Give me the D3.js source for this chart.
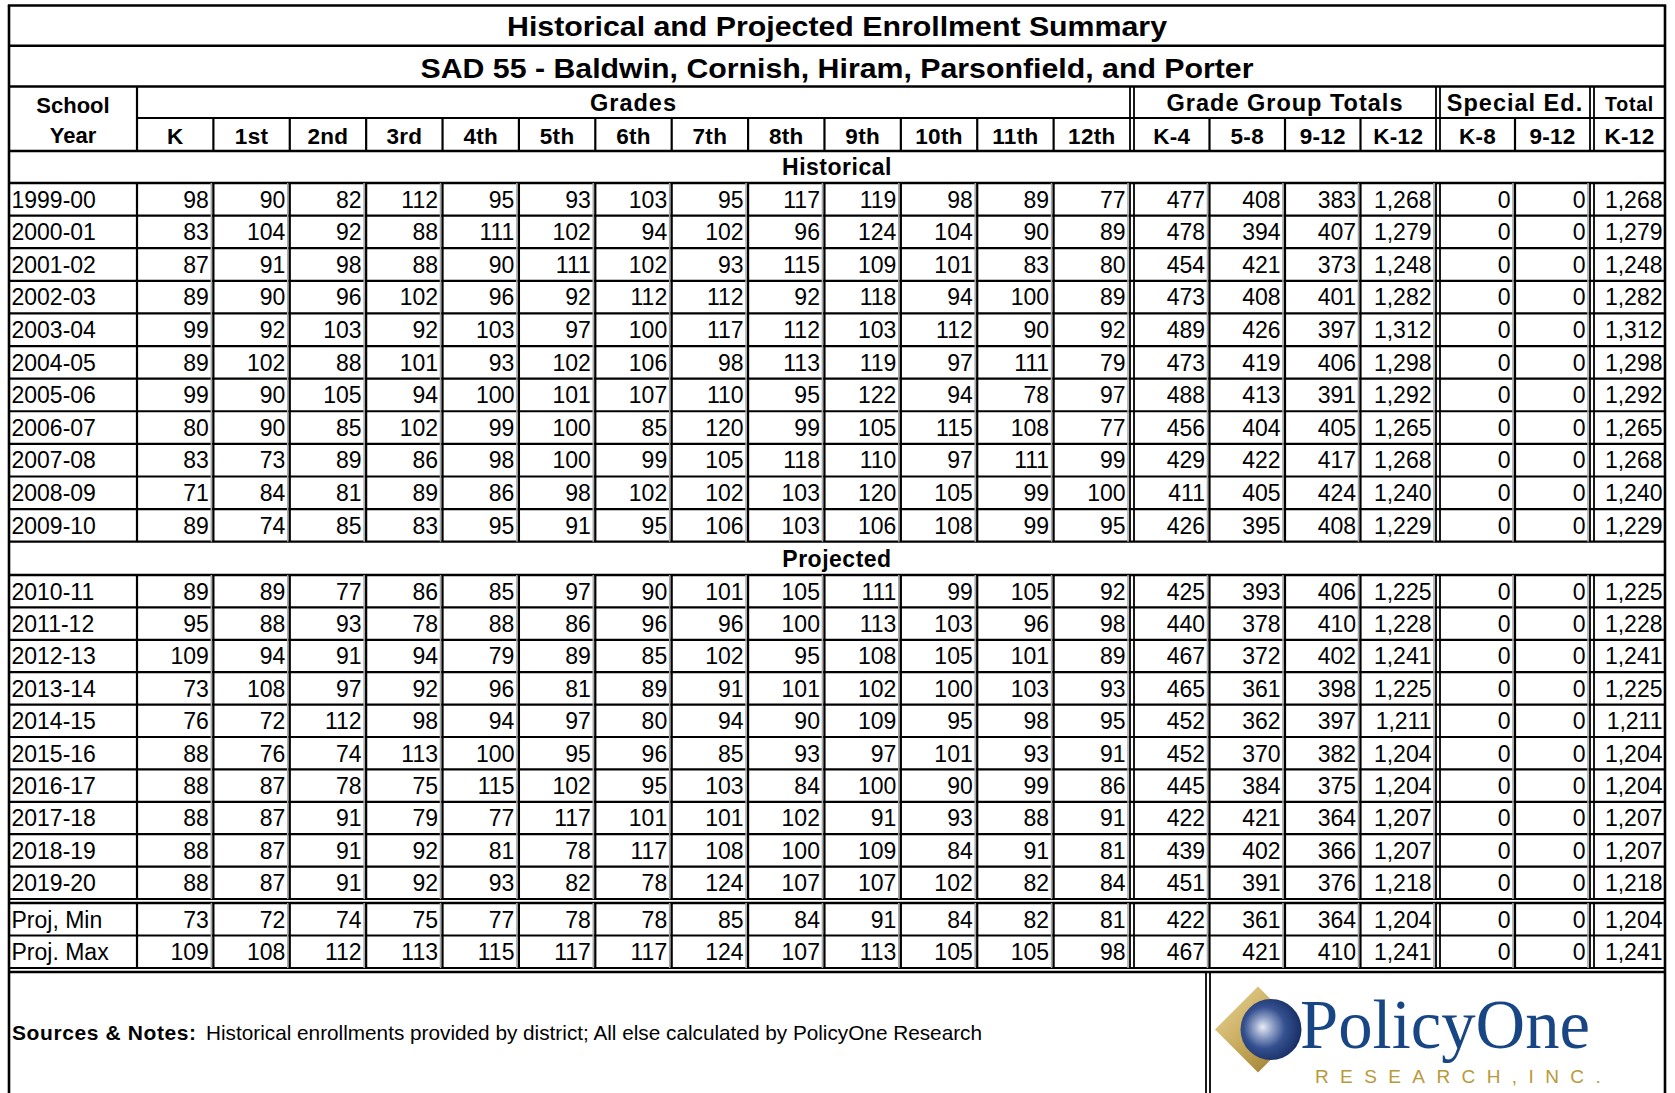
<!DOCTYPE html>
<html><head><meta charset="utf-8">
<script src="https://cdn.jsdelivr.net/npm/d3@7"></script>
<style>
body{margin:0;background:#fff}
svg{display:block}
text{font-family:"Liberation Sans",Arial,Helvetica,sans-serif;fill:#000}
</style>
</head><body><div id="chart"></div>
<script>
// ---------------- DATA ----------------
const titleText = "Historical and Projected Enrollment Summary";
const subtitleText = "SAD 55 - Baldwin, Cornish, Hiram, Parsonfield, and Porter";
const gradeCols = ["K","1st","2nd","3rd","4th","5th","6th","7th","8th","9th","10th","11th","12th"];
const groupCols = ["K-4","5-8","9-12","K-12"];
const specCols = ["K-8","9-12"];
const totalCols = ["K-12"];

const histYears = ["1999-00","2000-01","2001-02","2002-03","2003-04","2004-05","2005-06","2006-07","2007-08","2008-09","2009-10"];
const histGrades = [
  [98,90,82,112,95,93,103,95,117,119,98,89,77],
  [83,104,92,88,111,102,94,102,96,124,104,90,89],
  [87,91,98,88,90,111,102,93,115,109,101,83,80],
  [89,90,96,102,96,92,112,112,92,118,94,100,89],
  [99,92,103,92,103,97,100,117,112,103,112,90,92],
  [89,102,88,101,93,102,106,98,113,119,97,111,79],
  [99,90,105,94,100,101,107,110,95,122,94,78,97],
  [80,90,85,102,99,100,85,120,99,105,115,108,77],
  [83,73,89,86,98,100,99,105,118,110,97,111,99],
  [71,84,81,89,86,98,102,102,103,120,105,99,100],
  [89,74,85,83,95,91,95,106,103,106,108,99,95]
];
const histGroups = [
  [477,408,383,1268],[478,394,407,1279],[454,421,373,1248],[473,408,401,1282],
  [489,426,397,1312],[473,419,406,1298],[488,413,391,1292],[456,404,405,1265],
  [429,422,417,1268],[411,405,424,1240],[426,395,408,1229]
];
const histSpecial = [[0,0],[0,0],[0,0],[0,0],[0,0],[0,0],[0,0],[0,0],[0,0],[0,0],[0,0]];
const histTotal = [1268,1279,1248,1282,1312,1298,1292,1265,1268,1240,1229];

const projYears = ["2010-11","2011-12","2012-13","2013-14","2014-15","2015-16","2016-17","2017-18","2018-19","2019-20"];
const projGrades = [
  [89,89,77,86,85,97,90,101,105,111,99,105,92],
  [95,88,93,78,88,86,96,96,100,113,103,96,98],
  [109,94,91,94,79,89,85,102,95,108,105,101,89],
  [73,108,97,92,96,81,89,91,101,102,100,103,93],
  [76,72,112,98,94,97,80,94,90,109,95,98,95],
  [88,76,74,113,100,95,96,85,93,97,101,93,91],
  [88,87,78,75,115,102,95,103,84,100,90,99,86],
  [88,87,91,79,77,117,101,101,102,91,93,88,91],
  [88,87,91,92,81,78,117,108,100,109,84,91,81],
  [88,87,91,92,93,82,78,124,107,107,102,82,84]
];
const projGroups = [
  [425,393,406,1225],[440,378,410,1228],[467,372,402,1241],[465,361,398,1225],
  [452,362,397,1211],[452,370,382,1204],[445,384,375,1204],[422,421,364,1207],
  [439,402,366,1207],[451,391,376,1218]
];
const projSpecial = [[0,0],[0,0],[0,0],[0,0],[0,0],[0,0],[0,0],[0,0],[0,0],[0,0]];
const projTotal = [1225,1228,1241,1225,1211,1204,1204,1207,1207,1218];

const sumLabels = ["Proj, Min","Proj. Max"];
const sumGrades = [
  [73,72,74,75,77,78,78,85,84,91,84,82,81],
  [109,108,112,113,115,117,117,124,107,113,105,105,98]
];
const sumGroups = [[422,361,364,1204],[467,421,410,1241]];
const sumSpecial = [[0,0],[0,0]];
const sumTotal = [1204,1241];

const notesLabel = "Sources & Notes:";
const notesText = "Historical enrollments provided by district; All else calculated by PolicyOne Research";

// ---------------- LAYOUT ----------------
const W = 1675, H = 1093;
const X0 = 9, XR = 1665;
const yTop = 5.5, yTitle = 45.7, ySub = 86.5, yH1 = 118, yH2 = 151;
const yHistLbl = 183, yHistEnd = 541.7, yProjLbl = 575, yProjEnd = 899, ySumTop = 903, ySumEnd = 968, yFoot = 972;

const xYear = [X0, 137];
const xG = d3.scaleBand().domain(gradeCols).range([137, 1130]);
const xGr = d3.scaleBand().domain(groupCols).range([1134, 1436]);
const xSp = d3.scaleBand().domain(specCols).range([1440, 1590]);
const xTo = d3.scaleBand().domain(totalCols).range([1594, XR]);
const fmt = d3.format(",");

const sections = [
  {label:"Historical", keys:histYears, grades:histGrades, groups:histGroups, special:histSpecial, total:histTotal, range:[yHistLbl, yHistEnd]},
  {label:"Projected", keys:projYears, grades:projGrades, groups:projGroups, special:projSpecial, total:projTotal, range:[yProjLbl, yProjEnd]},
  {label:null, keys:sumLabels, grades:sumGrades, groups:sumGroups, special:sumSpecial, total:sumTotal, range:[ySumTop, ySumEnd]}
];

const svg = d3.select("#chart").append("svg").attr("width", W).attr("height", H);
svg.append("rect").attr("width", W).attr("height", H).attr("fill", "#fff");

const gLines = svg.append("g");
const gText = svg.append("g");
function hline(y, x1, x2, w = 2.2, c = "#000") {
  gLines.append("line").attr("x1", x1).attr("x2", x2).attr("y1", y).attr("y2", y).attr("stroke", c).attr("stroke-width", w);
}
function vline(x, y1, y2, w = 2.2, c = "#000") {
  gLines.append("line").attr("x1", x).attr("x2", x).attr("y1", y1).attr("y2", y2).attr("stroke", c).attr("stroke-width", w);
}
function txt(x, y, s, o = {}) {
  const t = gText.append("text").attr("x", x).attr("y", y).text(s)
    .attr("font-size", o.size || 23).attr("font-weight", o.bold ? "bold" : "normal")
    .attr("text-anchor", o.anchor || "start");
  if (o.ls) t.attr("letter-spacing", o.ls);
  if (o.len) t.attr("textLength", o.len).attr("lengthAdjust", "spacingAndGlyphs");
  if (o.fill) t.style("fill", o.fill);
  return t;
}
const right = s => s.range()[1];
const left = s => s.range()[0];
const innerBounds = s => s.domain().slice(0, -1).map(d => s(d) + s.bandwidth());

// ---------------- OUTER FRAME & TITLE ----------------
hline(yTop, X0 - 1.2, XR + 1.2, 2.6);
vline(X0, yTop, H, 2.6);
vline(XR, yTop, H, 2.6);
hline(yTitle, X0, XR, 2.4);
hline(ySub, X0, XR, 2.4);
txt((X0 + XR) / 2, 36, titleText, {size: 28, bold: true, anchor: "middle", len: 660});
txt((X0 + XR) / 2, 77.5, subtitleText, {size: 28, bold: true, anchor: "middle", len: 833});

// ---------------- HEADER ----------------
hline(yH1, xYear[1], XR, 2.2);
hline(yH2, X0, XR, 2.4);
vline(xYear[1], ySub, yH2);
[[right(xG), left(xGr)], [right(xGr), left(xSp)], [right(xSp), left(xTo)]].forEach(([a, b]) => {
  vline(a, ySub, yH2, 1.8); vline(b, ySub, yH2, 1.8);
});
[...innerBounds(xG), ...innerBounds(xGr), ...innerBounds(xSp)].forEach(x => vline(x, yH1, yH2));

txt((xYear[0] + xYear[1]) / 2, 113, "School", {size: 22, bold: true, anchor: "middle"});
txt((xYear[0] + xYear[1]) / 2, 143, "Year", {size: 22, bold: true, anchor: "middle"});
txt((left(xG) + right(xG)) / 2, 111, "Grades", {size: 23.5, bold: true, anchor: "middle", ls: 1});
txt((left(xGr) + right(xGr)) / 2, 111, "Grade Group Totals", {size: 23.5, bold: true, anchor: "middle", ls: 1});
txt((left(xSp) + right(xSp)) / 2, 111, "Special Ed.", {size: 23.5, bold: true, anchor: "middle", ls: 1});
txt((left(xTo) + right(xTo)) / 2, 111, "Total", {size: 19.5, bold: true, anchor: "middle", ls: 0.8});
[[xG, gradeCols], [xGr, groupCols], [xSp, specCols], [xTo, totalCols]].forEach(([s, cols]) => {
  cols.forEach(c => txt(s(c) + s.bandwidth() / 2, 143.5, c, {size: 22.5, bold: true, anchor: "middle", ls: 0.3}));
});

// ---------------- DATA SECTIONS ----------------
sections.forEach(sec => {
  const [y0, y1] = sec.range;
  const yS = d3.scaleBand().domain(sec.keys).range([y0, y1]);
  if (sec.label) {
    const ly = sec.label === "Historical" ? yH2 : yHistEnd;
    txt((X0 + XR) / 2, (ly + y0) / 2 + 8.2, sec.label, {size: 23, bold: true, anchor: "middle", ls: 0.5});
  }
  hline(y0, X0, XR, 2.4);
  sec.keys.forEach(k => hline(yS(k) + yS.bandwidth(), X0, XR, 2.2));
  const numBounds = [...xG.domain().map(d => xG(d) + xG.bandwidth()),
                     ...xGr.domain().map(d => xGr(d) + xGr.bandwidth()),
                     ...xSp.domain().map(d => xSp(d) + xSp.bandwidth())];
  numBounds.forEach(x => vline(x - 2, y0, y1, 1.6, "#a8a8a8"));
  vline(xYear[1], y0, y1);
  [...innerBounds(xG), ...innerBounds(xGr), ...innerBounds(xSp)].forEach(x => vline(x, y0, y1));
  [[right(xG), left(xGr)], [right(xGr), left(xSp)], [right(xSp), left(xTo)]].forEach(([a, b]) => {
    vline(a, y0, y1, 1.8); vline(b, y0, y1, 1.8);
  });
  sec.keys.forEach((k, i) => {
    const by = yS(k) + yS.bandwidth() / 2 + 8.3;
    txt(11.5, by, k, {size: 23});
    gradeCols.forEach((c, j) => txt(xG(c) + xG.bandwidth() - 4.5, by, fmt(sec.grades[i][j]), {size: 23, anchor: "end"}));
    groupCols.forEach((c, j) => txt(xGr(c) + xGr.bandwidth() - 4.5, by, fmt(sec.groups[i][j]), {size: 23, anchor: "end"}));
    specCols.forEach((c, j) => txt(xSp(c) + xSp.bandwidth() - 4.5, by, fmt(sec.special[i][j]), {size: 23, anchor: "end"}));
    txt(xTo("K-12") + xTo.bandwidth() - 2.5, by, fmt(sec.total[i]), {size: 23, anchor: "end"});
  });
});
hline(yFoot, X0, XR, 2.4);

// ---------------- FOOTER ----------------
vline(1206, yFoot, H, 1.8);
vline(1210, yFoot, H, 1.8);
txt(12, 1040, notesLabel, {size: 21, bold: true, ls: 0.6});
txt(206, 1040, notesText, {size: 20.6, len: 776});

// logo
const defs = svg.append("defs");
const rg = defs.append("radialGradient").attr("id", "sphere").attr("cx", 0.42).attr("cy", 0.48).attr("r", 0.62).attr("fx", 0.36).attr("fy", 0.46);
[[0, "#e8ecf6"], [0.22, "#9aa9cc"], [0.55, "#34508f"], [1, "#142a5e"]].forEach(([o, c]) => rg.append("stop").attr("offset", o).attr("stop-color", c));
const lg = defs.append("linearGradient").attr("id", "gold").attr("x1", 0).attr("y1", 0).attr("x2", 1).attr("y2", 1);
[[0, "#ecd99b"], [0.5, "#c6a85a"], [1, "#8c6f22"]].forEach(([o, c]) => lg.append("stop").attr("offset", o).attr("stop-color", c));
const gLogo = svg.append("g");
const dc = [1258, 1029.5], dr = 43;
gLogo.append("path").attr("d", `M${dc[0]-dr},${dc[1]} L${dc[0]},${dc[1]-dr} L${dc[0]+dr},${dc[1]} L${dc[0]},${dc[1]+dr} Z`).attr("fill", "url(#gold)");
gLogo.append("circle").attr("cx", 1271).attr("cy", 1029.5).attr("r", 30.5).attr("fill", "url(#sphere)");
gLogo.append("text").attr("x", 1300).attr("y", 1048).text("PolicyOne")
  .attr("font-size", 70).attr("textLength", 290).attr("lengthAdjust", "spacingAndGlyphs")
  .style("font-family", '"Liberation Serif","Times New Roman",serif').style("fill", "#184684");
gLogo.append("text").attr("x", 1315).attr("y", 1083).text("RESEARCH,INC.")
  .attr("font-size", 19).attr("letter-spacing", 11.4).style("fill", "#b8993a");
</script>
</body></html>
